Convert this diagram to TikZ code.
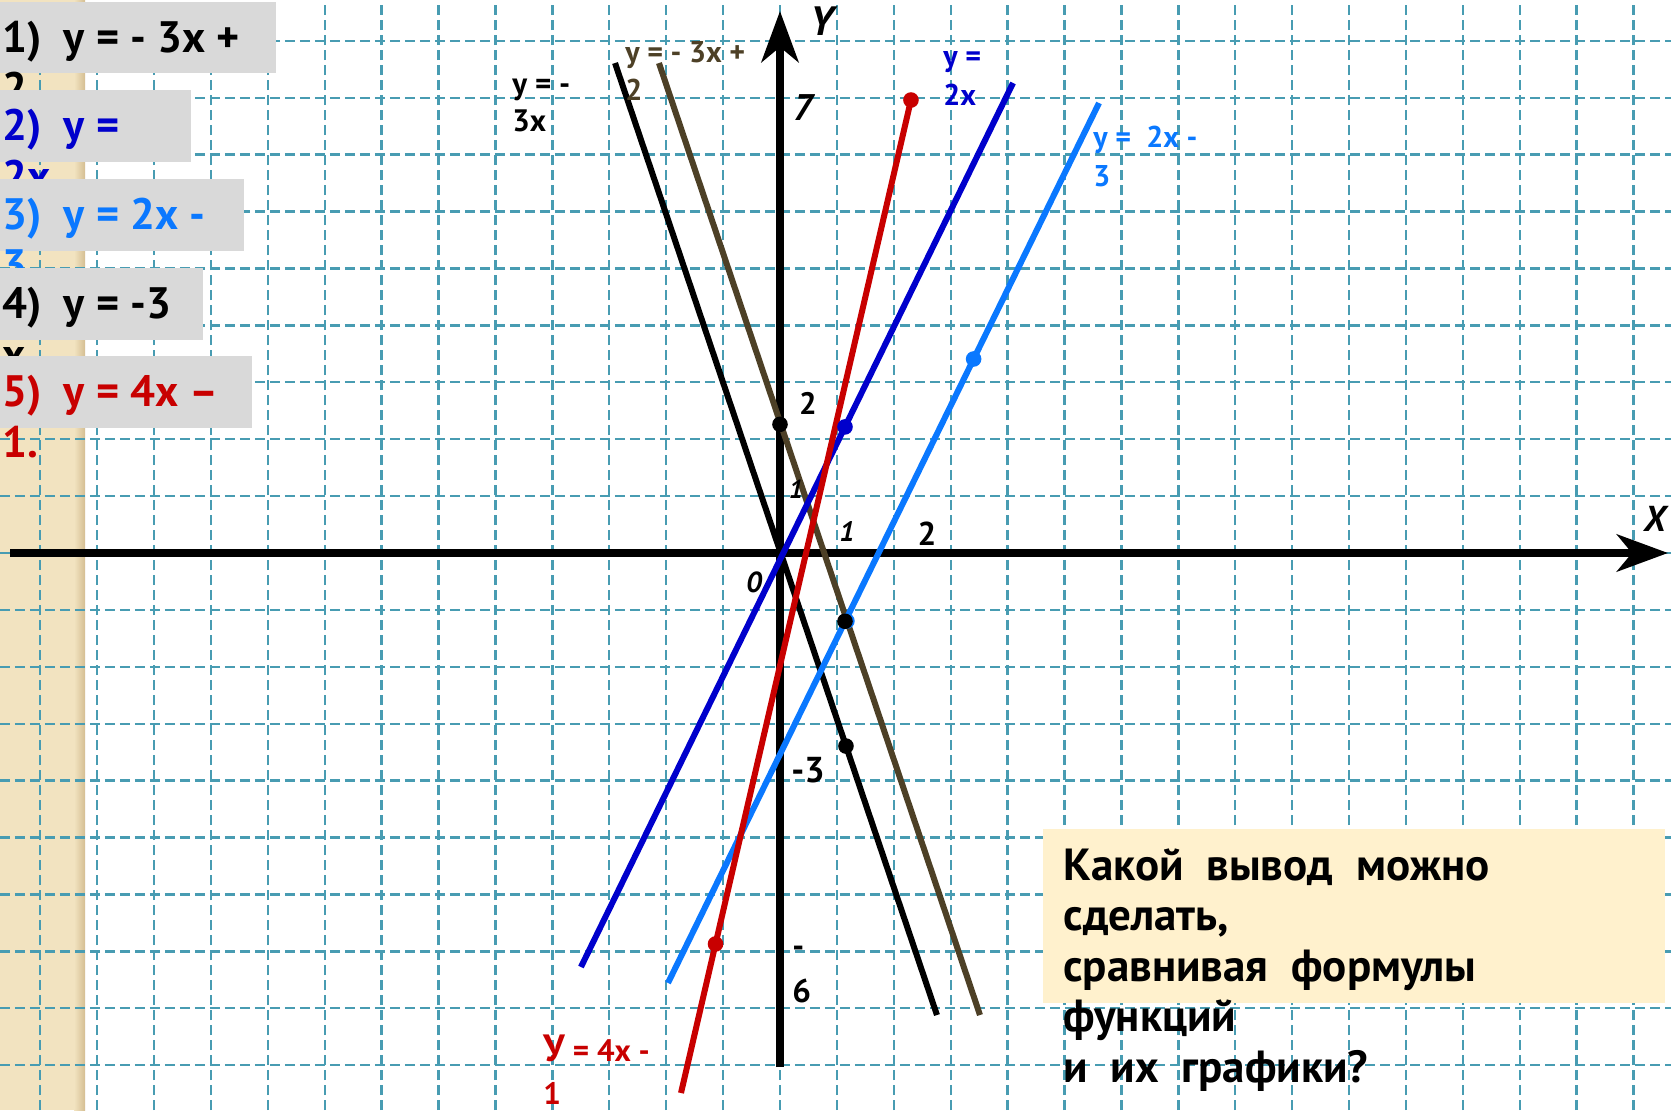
\documentclass[tikz,border=0pt]{standalone}
\usepackage{fontspec}
\setmainfont{PT Sans}
\usetikzlibrary{arrows.meta}
\definecolor{GridC}{RGB}{72,156,178}
\definecolor{LGray}{RGB}{217,217,217}
\definecolor{Tan}{RGB}{242,227,192}
\definecolor{DTan}{RGB}{212,190,146}
\definecolor{LYellow}{RGB}{255,241,205}
\definecolor{Brown}{RGB}{77,64,38}
\definecolor{DBlue}{RGB}{0,0,204}
\definecolor{LBlue}{RGB}{10,120,255}
\definecolor{Red}{RGB}{200,0,0}

\tikzset{
    graph/.style={line width=3pt},
    axis/.style={line width=4.2pt, -{Stealth[length=25.5pt, width=18.5pt, inset=7.5pt]}},
    lbl/.style={anchor=base west, inner sep=0pt, align=left, font=\bfseries},
    tick/.style={inner sep=0pt, font=\bfseries},
    boxtext/.style={anchor=base west, inner sep=0pt, align=left,
        font=\fontsize{22pt}{25.5pt}\selectfont\bfseries},
}

\begin{document}
\begin{tikzpicture}[x=32.5pt, y=32.5pt]

    \def\R{0.12}

    \useasboundingbox (-12,-8.5692) rectangle (13.7077,8.5077);
    \fill[white] (-12,-8.5692) rectangle (13.7077,8.5077);

    % stripe
    \fill[Tan] (-12,-8.5692) rectangle (-10.86,8.5077);
    \shade[left color=Tan, right color=DTan] (-10.86,-8.5692) rectangle (-10.692,8.5077);

    % grid
    \draw[GridC, line width=1.2pt, dash pattern=on 5pt off 2.5pt]
        (-12,-8.5692) grid (13.7077,8.5077);

    % question (anchored at the baseline of its last line)
    \fill[LYellow] (4.046,-4.246) rectangle (13.615,-6.923);
    \node[boxtext, font=\fontsize{22.5pt}{25.3pt}\selectfont\bfseries] (question) at (4.354,-8.145)
        {Какой\ \ вывод\ \ можно\\сделать,\\сравнивая\ \ формулы\\функций\\и\ \ их\ \ графики?};

    % axes
    \coordinate (x-start) at (-11.846,0);
    \coordinate (x-end) at (13.662,0);
    \coordinate (y-start) at (0,-7.908);
    \coordinate (y-end) at (0,8.338);
    \draw[axis] (x-start) -- (x-end);
    \draw[axis] (y-start) -- (y-end);

    \begin{scope}[name prefix=pt-]
        \coordinate (k1) at (-2.538,7.538);
        \coordinate (k2) at (2.415,-7.108);
        \coordinate (b1) at (-1.862,7.538);
        \coordinate (b2) at (3.077,-7.108);
        \coordinate (d1) at (-3.062,-6.369);
        \coordinate (d2) at (3.585,7.231);
        \coordinate (l1) at (-1.723,-6.615);
        \coordinate (l2) at (4.908,6.923);
        \coordinate (r1) at (-1.523,-8.308);
        \coordinate (r2) at (2.015,6.969);
    \end{scope}

    % graphs
    \draw[graph, black] (pt-k1) -- (pt-k2);
    \draw[graph, Brown] (pt-b1) -- (pt-b2);
    \draw[graph, DBlue] (pt-d1) -- (pt-d2);
    \draw[graph, LBlue] (pt-l1) -- (pt-l2);
    \draw[graph, Red] (pt-r1) -- (pt-r2);

    % points
    \fill[LBlue] (2.979,2.985) circle (\R);
    \fill[LBlue] (1.03,-1.046) circle (\R);
    \fill[DBlue] (1,1.94) circle (\R);
    \fill[black] (0,1.98) circle (\R);
    \fill[black] (1,-1.05) circle (\R);
    \fill[black] (1.015,-2.97) circle (\R);
    \fill[Red] (pt-r2) circle (\R);
    \fill[Red] (-0.992,-6.015) circle (\R);

    % axis labels
    \node[tick, font=\fontsize{20.5pt}{24pt}\selectfont\bfseries\itshape] (y-name) at (0.646,8.185) {Y};
    \node[tick, font=\fontsize{18pt}{22pt}\selectfont\bfseries\itshape] (x-name) at (13.46,0.523) {X};
    \node[tick, font=\fontsize{18.5pt}{22pt}\selectfont\bfseries\itshape] (y7) at (0.354,6.846) {7};
    \node[tick, font=\fontsize{15.5pt}{19pt}\selectfont\bfseries] (y2) at (0.431,2.308) {2};
    \node[tick, font=\fontsize{13pt}{16pt}\selectfont\bfseries\itshape] (y1) at (0.246,0.985) {1};
    \node[tick, font=\fontsize{14pt}{17pt}\selectfont\bfseries\itshape] (x1) at (1.031,0.323) {1};
    \node[tick, font=\fontsize{16.5pt}{20pt}\selectfont\bfseries] (x2) at (2.262,0.292) {2};
    \node[tick, font=\fontsize{14.5pt}{18pt}\selectfont\bfseries\itshape] (origin) at (-0.4,-0.446) {0};
    \node[tick, font=\fontsize{18pt}{22pt}\selectfont\bfseries] (ym3) at (0.431,-3.338) {-3};
    \node[lbl, font=\fontsize{16.5pt}{22.5pt}\selectfont\bfseries] (ym6) at (0.185,-6.922) {-\\6};

    % graph labels
    \node[lbl, font=\fontsize{15.5pt}{18.5pt}\selectfont\bfseries] (k-name) at (-4.123,6.477) {y = -\\3x};
    \node[lbl, Brown, font=\fontsize{15pt}{19pt}\selectfont\bfseries] (b-name) at (-2.385,6.969) {y = - 3x +\\2};
    \node[lbl, DBlue, font=\fontsize{15pt}{19.5pt}\selectfont\bfseries] (d-name) at (2.508,6.877) {y =\\2x};
    \node[lbl, LBlue, font=\fontsize{15pt}{19.5pt}\selectfont\bfseries] (l-name) at (4.815,5.631) {y =\ \ 2x -\\3};
    \node[lbl, Red, font=\fontsize{15.5pt}{21.5pt}\selectfont\bfseries] (r-name) at (-3.646,-8.48)
        {{\fontsize{19pt}{21.5pt}\selectfont У} = 4x -\\1};

    % formulas
    \fill[LGray] (-12,8.477) rectangle (-7.754,7.385);
    \node[boxtext] (f1) at (-11.97,6.923) {1)\ \ y = - 3x +\\2};
    \fill[LGray] (-12,7.123) rectangle (-9.062,6.015);
    \node[boxtext, DBlue] (f2) at (-11.97,5.569) {2)\ \ y =\\2x};
    \fill[LGray] (-12,5.754) rectangle (-8.246,4.646);
    \node[boxtext, LBlue] (f3) at (-11.97,4.2) {3)\ \ y = 2x -\\3};
    \fill[LGray] (-12,4.385) rectangle (-8.877,3.277);
    \node[boxtext] (f4) at (-11.97,2.83) {4)\ \ y = -3\\x};
    \fill[LGray] (-12,3.031) rectangle (-8.123,1.923);
    \node[boxtext, Red] (f5) at (-11.97,1.477) {5)\ \ y = 4x –\\1.};

\end{tikzpicture}
\end{document}
